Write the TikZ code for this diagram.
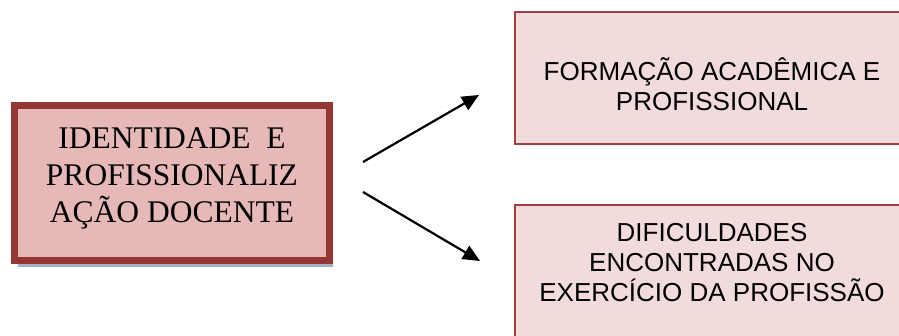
\documentclass[tikz,border=0pt]{standalone}
\usepackage{fontspec}
\setmainfont{Liberation Serif}
\newfontfamily\arialfont{Liberation Sans}
\usetikzlibrary{arrows.meta}
\definecolor{mainfill}{HTML}{E6B8B7}
\definecolor{mainborder}{HTML}{943634}
\definecolor{subfill}{HTML}{F2DCDB}
\definecolor{subborder}{HTML}{A04040}
\definecolor{shadowcol}{HTML}{A3B1C4}
\begin{document}
\begin{tikzpicture}[x=1pt,y=-1pt,
  mainbox/.style={draw=mainborder, fill=mainfill, line width=7pt},
  subbox/.style={draw=subborder, fill=subfill, line width=1.5pt},
  maintext/.style={align=center, font=\fontsize{31.5}{37}\selectfont, inner sep=0pt},
  subtext/.style={align=center, font=\arialfont\fontsize{26}{30}\selectfont, inner sep=0pt},
  link/.style={line width=2.2pt, -{Triangle[length=17pt,width=15pt]}}]
\useasboundingbox (0,0) rectangle (899,336);
% central box with its drop shadow
\fill[shadowcol] (17.5,108.5) rectangle (333,267);
\draw[mainbox] (14.5,105.5) rectangle (329.5,260.5);
\node[maintext] (main) at (172,178) {IDENTIDADE\ \ E\\PROFISSIONALIZ\\AÇÃO DOCENTE};
% the two topic boxes on the right
\draw[subbox] (515,12) rectangle (912,144);
\node[subtext] (formacao) at (712,84) {FORMAÇÃO ACADÊMICA E\\PROFISSIONAL};
\draw[subbox] (515,205) rectangle (912,345);
\node[subtext] (dificuldades) at (712,263) {DIFICULDADES\\ENCONTRADAS NO\\EXERCÍCIO DA PROFISSÃO};
% arrows
\coordinate (upstart) at (363,162);
\coordinate (upend) at (479,95);
\coordinate (downstart) at (363,192);
\coordinate (downend) at (480,261);
\draw[link] (upstart) -- (upend);
\draw[link] (downstart) -- (downend);
\end{tikzpicture}
\end{document}
